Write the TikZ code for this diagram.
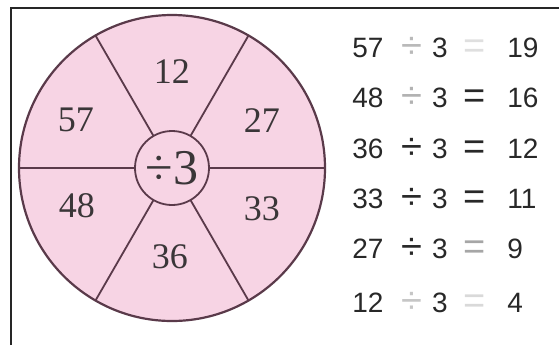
\documentclass[tikz,border=0pt]{standalone}
\usepackage{fontspec}
\setmainfont{Liberation Serif}
\newfontfamily\eqfont{Liberation Sans}
\definecolor{wheelpink}{RGB}{247,212,228}
\definecolor{wheelline}{RGB}{90,58,74}
\definecolor{numcol}{RGB}{58,54,56}
\definecolor{eqcol}{RGB}{40,40,40}
\begin{document}
\begin{tikzpicture}[x=0.5pt,y=-0.5pt,
  wheel/.style={circle,draw=wheelline,fill=wheelpink,line width=1.1pt,minimum size=153pt,inner sep=0pt,outer sep=0pt},
  hub/.style={circle,draw=wheelline,fill=wheelpink,line width=0.9pt,minimum size=37pt,inner sep=0pt,outer sep=0pt,text=numcol,font=\fontsize{25}{25}\selectfont},
  spoke/.style={draw=wheelline,line width=0.9pt},
  num/.style={text=numcol,font=\fontsize{18}{18}\selectfont,inner sep=0pt},
  eq/.style={text=eqcol,font=\eqfont\fontsize{14}{14}\selectfont,inner sep=0pt,anchor=base},
  op/.style={eq,font=\eqfont\fontsize{19}{19}\selectfont},
  frameline/.style={line width=1.1pt,draw=black!85}]
\useasboundingbox (0,0) rectangle (559,345);
\draw[frameline] (11,345) -- (11,8) -- (559,8);
\node[wheel] (w) at (172,168) {};
\node[hub] (h) at (172,168) {÷3};
\foreach \a in {0,60,...,300} \draw[spoke] (h.\a) -- (w.\a);
\node[num] (n12) at (172,72) {12};
\node[num] (n57) at (76,120) {57};
\node[num] (n27) at (262,121) {27};
\node[num] (n48) at (77,206) {48};
\node[num] (n33) at (262,209) {33};
\node[num] (n36) at (170,257) {36};
\foreach \i/\y/\n/\r/\dc/\ec in {1/57/57/19/gray!55/gray!25, 2/107/48/16/gray!60/eqcol, 3/158/36/12/eqcol/eqcol, 4/208/33/11/eqcol/eqcol, 5/258/27/9/eqcol/gray!70, 6/312/12/4/gray!45/gray!30}{
  \node[eq] (a\i) at (368,\y) {\n};
  \node[op,text=\dc] (d\i) at (412,\y+1) {÷};
  \node[eq] (t\i) at (440,\y) {3};
  \node[op,text=\ec] (e\i) at (475,\y+1) {=};
  \node[eq,anchor=base west] (r\i) at (507,\y) {\r};
}
\end{tikzpicture}
\end{document}
